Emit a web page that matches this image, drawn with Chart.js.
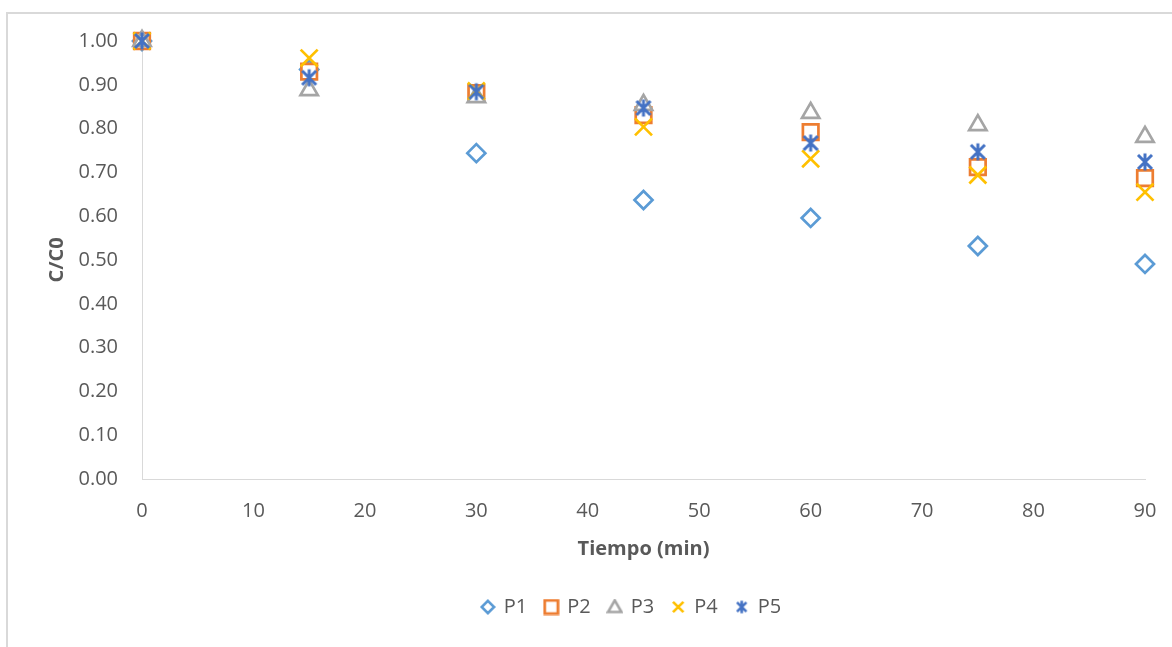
<!DOCTYPE html>
<html>
<head>
<meta charset="utf-8">
<script src="https://cdn.jsdelivr.net/npm/chart.js@4/dist/chart.umd.min.js"></script>
<style>
  html, body { margin: 0; padding: 0; background: #fff; }
  #box {
    position: absolute; left: 6px; top: 12px; width: 1166px; height: 635px;
    border-left: 2px solid #d9d9d9; border-top: 2px solid #d9d9d9; box-sizing: border-box;
  }
  #wrap { position: absolute; left: 0; top: 0; width: 1164px; height: 633px; }
</style>
</head>
<body>
<div id="box"><div id="wrap"><canvas id="decay"></canvas></div></div>
<script>
const tiempo = [0, 15, 30, 45, 60, 75, 90];
const p1 = [1.00, 0.935, 0.744, 0.637, 0.596, 0.532, 0.491];
const p2 = [1.00, 0.930, 0.881, 0.831, 0.792, 0.712, 0.687];
const p3 = [1.00, 0.888, 0.872, 0.854, 0.836, 0.808, 0.781];
const p4 = [1.00, 0.961, 0.886, 0.804, 0.731, 0.694, 0.655];
const p5 = [1.00, 0.916, 0.884, 0.847, 0.767, 0.747, 0.724];
const seriesNames = ['P1', 'P2', 'P3', 'P4', 'P5'];
const xTicks = [0, 10, 20, 30, 40, 50, 60, 70, 80, 90];

const colors = ['#5B9BD5', '#ED7D31', '#A5A5A5', '#FFC000', '#4472C4'];

// small marker images: diamond, square, triangle, x, asterisk
function marker(kind, size, lw, color) {
  const c = document.createElement('canvas');
  c.width = size; c.height = size;
  const g = c.getContext('2d');
  const m = size / 2, h = m - lw / 2 - 0.5;
  g.strokeStyle = color; g.fillStyle = '#fff'; g.lineWidth = lw;
  g.beginPath();
  if (kind === 'diamond') {
    g.moveTo(m, m - h); g.lineTo(m + h, m); g.lineTo(m, m + h); g.lineTo(m - h, m); g.closePath();
    g.fill();
  } else if (kind === 'square') {
    g.rect(m - h, m - h, 2 * h, 2 * h);
    g.fill();
  } else if (kind === 'triangle') {
    g.moveTo(m, m - h); g.lineTo(m + h, m + h * 0.75); g.lineTo(m - h, m + h * 0.75); g.closePath();
    g.fill();
  } else if (kind === 'x') {
    g.moveTo(m - h, m - h); g.lineTo(m + h, m + h);
    g.moveTo(m + h, m - h); g.lineTo(m - h, m + h);
  } else {
    const d = h - 1;
    g.moveTo(m - d, m - d); g.lineTo(m + d, m + d);
    g.moveTo(m + d, m - d); g.lineTo(m - d, m + d);
    g.moveTo(m, m - h - 0.5); g.lineTo(m, m + h + 0.5);
  }
  g.stroke();
  return c;
}
const starBig = marker('star', 20, 3, colors[4]);
const legendIcons = [
  marker('diamond', 16, 2.6, colors[0]),
  marker('square', 17, 2.8, colors[1]),
  marker('triangle', 17, 2.6, colors[2]),
  marker('x', 14, 2.6, colors[3]),
  marker('star', 15, 2.6, colors[4])
];

const pts = vals => vals.map((v, i) => ({x: tiempo[i], y: v}));

const styles = [
  {pointStyle: 'rectRot', radius: 9, order: 5},
  {pointStyle: 'rect', radius: 11, order: 4},
  {pointStyle: 'triangle', radius: 10, order: 3},
  {pointStyle: 'crossRot', radius: 12, order: 2},
  {pointStyle: starBig, radius: 10, order: 1}
];

const datasets = [p1, p2, p3, p4, p5].map((vals, k) => ({
  label: seriesNames[k],
  data: pts(vals),
  showLine: false,
  clip: false,
  borderColor: colors[k],
  backgroundColor: '#fff',
  pointBackgroundColor: '#fff',
  pointBorderColor: colors[k],
  pointBorderWidth: 2.7,
  pointStyle: styles[k].pointStyle,
  pointRadius: styles[k].radius,
  pointHoverRadius: styles[k].radius,
  order: styles[k].order
}));

const grey = '#595959';
const font = {family: '"Open Sans", "Liberation Sans", sans-serif', size: 20};
const bold = Object.assign({}, font, {weight: 'bold'});

// nudge the legend row to the right of the canvas centre
const legendShift = {
  id: 'legendShift',
  afterLayout(chart) {
    chart.legend.left += 55;
    chart.legend.right += 55;
  }
};

new Chart(document.getElementById('decay'), {
  type: 'scatter',
  data: {datasets: datasets},
  options: {
    responsive: true,
    maintainAspectRatio: false,
    animation: false,
    layout: {autoPadding: false, padding: {left: 0, top: 27, right: 27, bottom: 20}},
    scales: {
      x: {
        type: 'linear', min: 0, max: 90,
        afterBuildTicks: s => { s.ticks = xTicks.map(v => ({value: v})); },
        afterFit: s => { s.height = 100; s.paddingLeft = 0; s.paddingRight = 0; },
        grid: {display: false, drawTicks: false},
        border: {display: true, color: '#d9d9d9', width: 1},
        ticks: {color: grey, font: font, padding: 20},
        title: {display: true, text: 'Tiempo (min)', color: grey, font: bold,
                padding: {top: 4, bottom: 18}}
      },
      y: {
        min: 0, max: 1,
        afterFit: s => { s.width = 134; s.paddingTop = 0; s.paddingBottom = 0; },
        grid: {display: false, drawTicks: false},
        border: {display: true, color: '#d9d9d9', width: 1},
        ticks: {color: grey, font: font, padding: 24, stepSize: 0.1,
                callback: v => v.toFixed(2)},
        title: {display: true, text: 'C/C0', color: grey, font: bold,
                padding: {top: 37, bottom: 0}}
      }
    },
    plugins: {
      tooltip: {enabled: false},
      legend: {
        position: 'bottom',
        labels: {
          usePointStyle: true, boxWidth: 12, boxHeight: 10, padding: 18,
          color: grey, font: font,
          sort: (a, b) => a.datasetIndex - b.datasetIndex,
          generateLabels: chart => {
            const items = Chart.defaults.plugins.legend.labels.generateLabels(chart);
            items.forEach(it => { it.pointStyle = legendIcons[it.datasetIndex]; });
            return items;
          }
        }
      }
    }
  },
  plugins: [legendShift]
});
</script>
</body>
</html>
